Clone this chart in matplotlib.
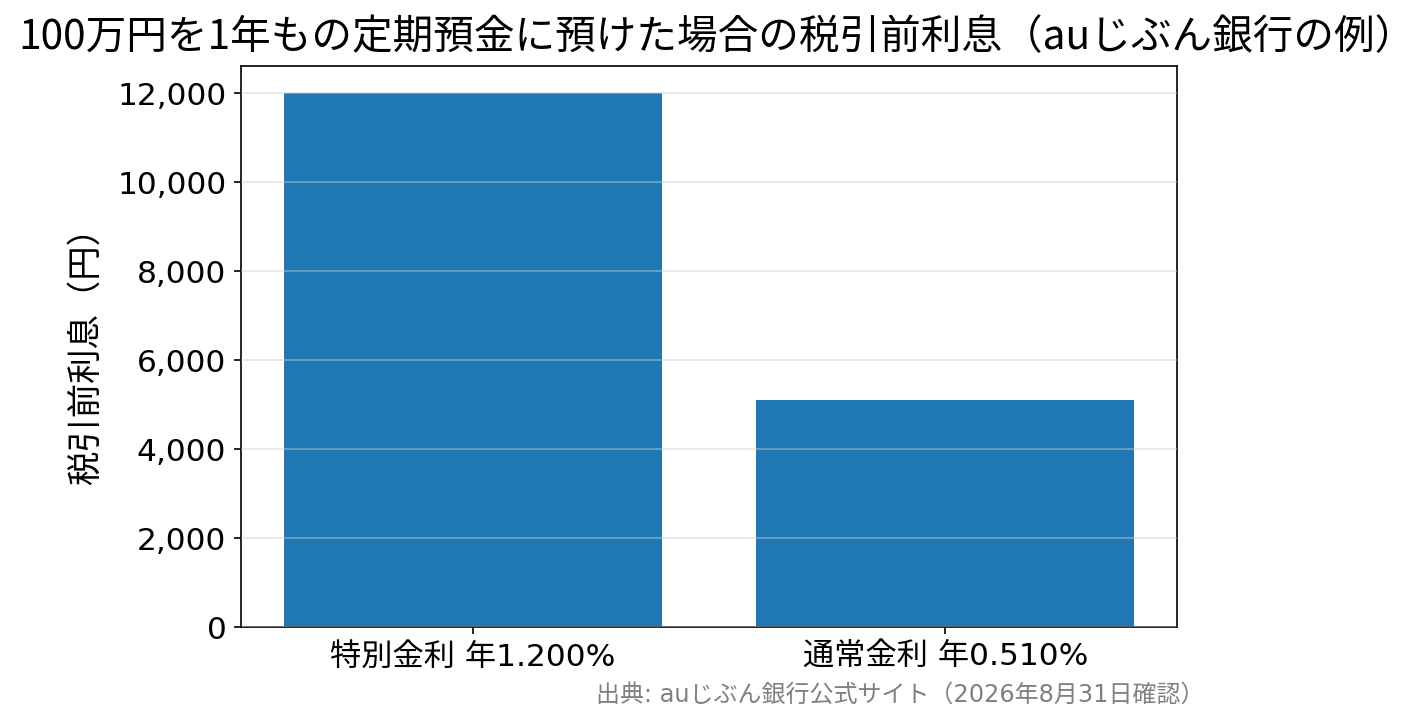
import matplotlib
matplotlib.use("Agg")
import matplotlib.pyplot as plt
from matplotlib.ticker import FuncFormatter

plt.rcParams['font.family'] = ['DejaVu Sans', 'Noto Sans CJK JP']

# data
categories = ["特別金利 年1.200%", "通常金利 年0.510%"]
interest_yen = [12000, 5100]

title = "100万円を1年もの定期預金に預けた場合の税引前利息（auじぶん銀行の例）"
ylabel = "税引前利息（円）"
source = "出典: auじぶん銀行公式サイト（2026年8月31日確認）"

fig = plt.figure(figsize=(9.46, 4.833), dpi=150)
ax = fig.add_axes([241 / 1419, 1 - 628 / 725, (1177 - 241) / 1419, (628 - 67) / 725])

ax.bar(categories, interest_yen, width=0.8, color="#1f77b4", zorder=2)
ax.yaxis.grid(True, color="#cccccc", alpha=0.5, linewidth=0.8, zorder=3)
ax.set_axisbelow(False)
ax.yaxis.set_major_formatter(FuncFormatter(lambda v, p: f"{int(v):,}"))

ax.tick_params(axis="both", labelsize=15)
ax.set_ylabel(ylabel, fontsize=16.5, labelpad=7)
fig.suptitle(title, fontsize=19.5, y=0.977, x=0.505,
             family=['Noto Sans CJK JP', 'DejaVu Sans'])

fig.text(1204 / 1419, 1 - 695 / 725, source, fontsize=11.5, color="gray",
         ha="right", va="center")

fig.savefig("out.png", dpi=150)
